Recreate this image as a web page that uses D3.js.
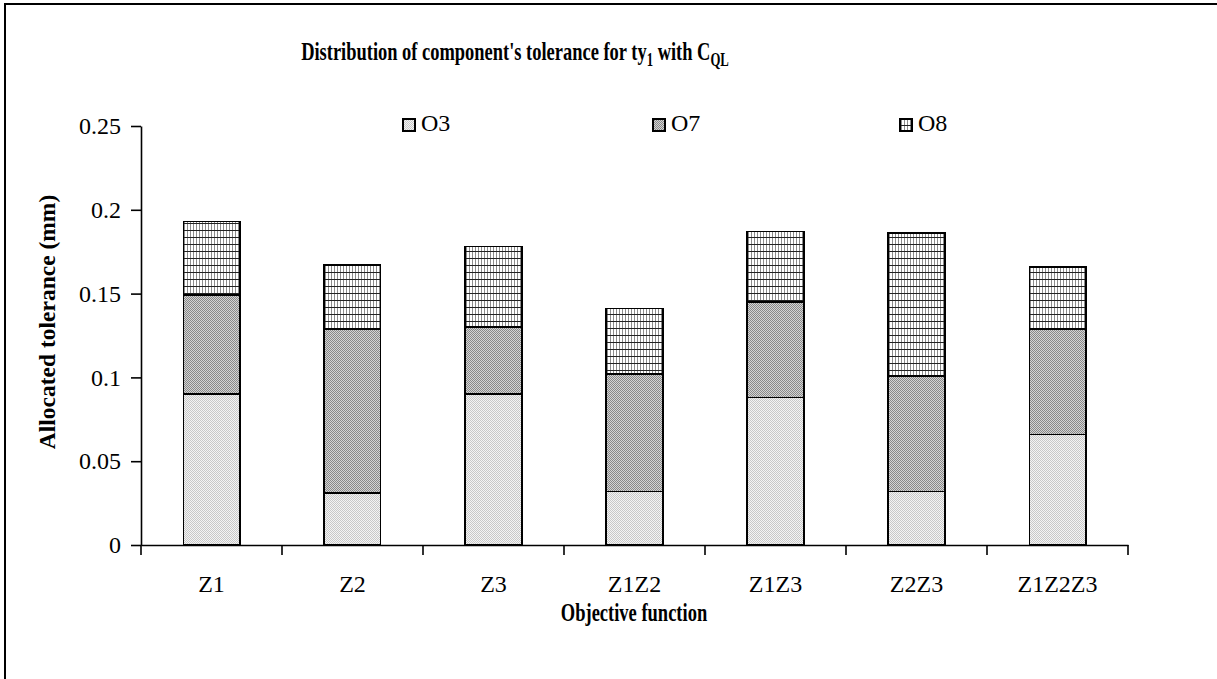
<!DOCTYPE html>
<html>
<head>
<meta charset="utf-8">
<script src="https://cdn.jsdelivr.net/npm/d3@7"></script>
<style>
  html, body { margin: 0; padding: 0; background: #fff; }
  svg { display: block; }
  text { font-family: "Liberation Serif", "Times New Roman", serif; fill: #000; }
</style>
</head>
<body>
<svg id="chart" width="1217" height="679"></svg>
<script>
// Objective functions on the x axis
const categories = ["Z1", "Z2", "Z3", "Z1Z2", "Z1Z3", "Z2Z3", "Z1Z2Z3"];
// Allocated tolerance (mm) for each component, stacked bottom to top
const seriesNames = ["O3", "O7", "O8"];
const o3Values = [0.090, 0.031, 0.090, 0.032, 0.088, 0.032, 0.066];
const o7Values = [0.059, 0.098, 0.040, 0.070, 0.057, 0.069, 0.063];
const o8Values = [0.044, 0.038, 0.048, 0.039, 0.042, 0.085, 0.037];
const yTickValues = [0, 0.05, 0.1, 0.15, 0.2, 0.25];

const svg = d3.select("#chart");
const W = 1217, H = 679;
const serif = "'Liberation Serif', 'Times New Roman', serif";

// fill textures for the three components
const defs = svg.append("defs");
function checker(id, a, b) {
  const p = defs.append("pattern").attr("id", id).attr("patternUnits", "userSpaceOnUse")
    .attr("width", 2).attr("height", 2);
  p.append("rect").attr("width", 2).attr("height", 2).attr("fill", b);
  p.append("rect").attr("width", 1).attr("height", 1).attr("fill", a);
  p.append("rect").attr("x", 1).attr("y", 1).attr("width", 1).attr("height", 1).attr("fill", a);
}
checker("pO3", "#c8c8c8", "#f4f4f4");
checker("pO7", "#888888", "#d4d4d4");
{
  const p = defs.append("pattern").attr("id", "pO8").attr("patternUnits", "userSpaceOnUse")
    .attr("width", 3).attr("height", 7);
  p.append("rect").attr("width", 3).attr("height", 7).attr("fill", "#fff");
  p.append("rect").attr("x", 1).attr("width", 1).attr("height", 7).attr("fill", "#8c8c8c");
  p.append("rect").attr("y", 6).attr("width", 3).attr("height", 1).attr("fill", "#222");
}
const fills = { O3: "url(#pO3)", O7: "url(#pO7)", O8: "url(#pO8)" };

// outer frame
svg.append("rect").attr("x", 5).attr("y", 4).attr("width", W + 10).attr("height", H + 10)
  .attr("fill", "none").attr("stroke", "#000").attr("stroke-width", 2);

const x = d3.scaleBand().domain(categories).range([141, 1128]).paddingInner(0.6).paddingOuter(0.3);
const y = d3.scaleLinear().domain([0, 0.25]).range([545, 126]);

const rows = categories.map((c, i) => ({ cat: c, O3: o3Values[i], O7: o7Values[i], O8: o8Values[i] }));
const stacked = d3.stack().keys(seriesNames)(rows);

const g = svg.append("g");
g.selectAll("g.series").data(stacked).join("g").attr("class", "series")
  .selectAll("rect").data(d => d.map(v => ({ v, key: d.key }))).join("rect")
  .attr("x", d => x(d.v.data.cat))
  .attr("width", x.bandwidth())
  .attr("y", d => y(d.v[1]))
  .attr("height", d => y(d.v[0]) - y(d.v[1]))
  .attr("fill", d => fills[d.key])
  .attr("stroke", "#000").attr("stroke-width", 1.6)
  .attr("shape-rendering", "crispEdges");

// y axis
const yAxis = svg.append("g").attr("transform", "translate(141,0)")
  .call(d3.axisLeft(y).tickValues(yTickValues).tickFormat(d => String(d)).tickSize(10).tickSizeOuter(0).tickPadding(10));
yAxis.attr("font-family", serif).attr("font-size", 24);
yAxis.select(".domain").attr("stroke-width", 1.6);
yAxis.selectAll(".tick line").attr("stroke-width", 1.6);

// x axis: labels centred on categories, ticks on category boundaries
const xAxis = svg.append("g").attr("transform", "translate(0,545)")
  .call(d3.axisBottom(x).tickSize(0).tickSizeOuter(0).tickPadding(30));
xAxis.attr("font-family", serif).attr("font-size", 24);
xAxis.select(".domain").attr("stroke-width", 1.6);
const bounds = categories.map(c => x(c) - x.step() * x.paddingInner() / 2);
xAxis.selectAll("line.bound").data(bounds).join("line").attr("class", "bound")
  .attr("x1", d => d).attr("x2", d => d).attr("y1", 0).attr("y2", 10)
  .attr("stroke", "#000").attr("stroke-width", 1.6);
xAxis.append("line").attr("x1", 1128).attr("x2", 1128).attr("y1", 0).attr("y2", 10)
  .attr("stroke", "#000").attr("stroke-width", 1.6);

// axis titles
svg.append("text").attr("transform", "translate(50,322) rotate(-90)")
  .attr("text-anchor", "middle").attr("dominant-baseline", "middle")
  .style("font-size", "23.5px").style("font-weight", "bold")
  .text("Allocated tolerance (mm)");
svg.append("text").attr("transform", "translate(634,621) scale(0.74,1)")
  .attr("text-anchor", "middle")
  .style("font-size", "25px").style("font-weight", "bold")
  .text("Objective function");

// chart title
const title = svg.append("text").attr("transform", "translate(515,60) scale(0.71,1)")
  .attr("text-anchor", "middle").style("font-size", "26px").style("font-weight", "bold");
title.append("tspan").text("Distribution of component's tolerance for ty");
title.append("tspan").attr("dy", 6).style("font-size", "18px").text("1");
title.append("tspan").attr("dy", -6).text(" with C");
title.append("tspan").attr("dy", 6).style("font-size", "18px").text("QL");

// legend
const legendX = [403, 653, 900];
const leg = svg.append("g").selectAll("g").data(seriesNames).join("g")
  .attr("transform", (d, i) => `translate(${legendX[i]},119)`);
leg.append("rect").attr("width", 12).attr("height", 12)
  .attr("fill", d => fills[d]).attr("stroke", "#000").attr("stroke-width", 1.6)
  .attr("shape-rendering", "crispEdges");
leg.append("text").attr("x", 18).attr("y", 6).attr("dominant-baseline", "middle")
  .style("font-size", "24px").text(d => d);
</script>
</body>
</html>
